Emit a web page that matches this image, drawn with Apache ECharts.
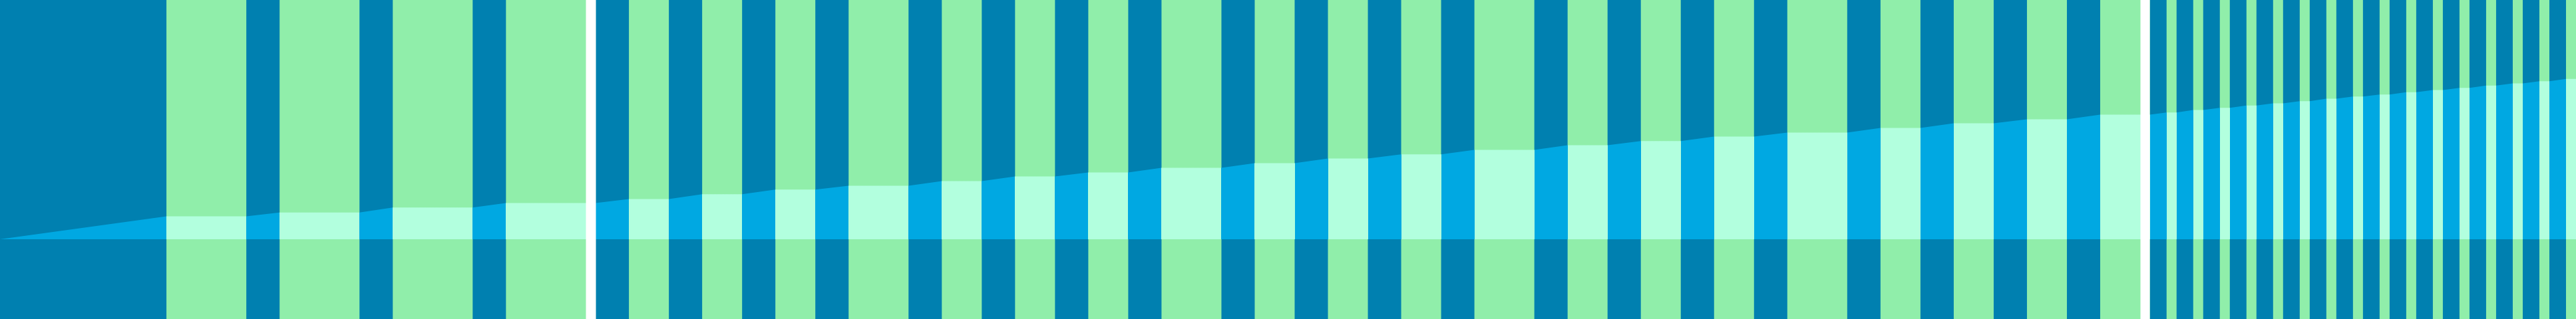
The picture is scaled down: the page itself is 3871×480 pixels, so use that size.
<!DOCTYPE html>
<html lang="en">
<head>
    <meta charset="UTF-8">
    <title>Cumulative total</title>
    <script src="https://cdn.jsdelivr.net/npm/echarts@6/dist/echarts.min.js"></script>
    <style>
        html, body { margin: 0; padding: 0; background: #fff; }
    </style>
</head>
<body>
<div id="main" style="width: 3871px;height:480px;"></div>
<script>

    // active periods (x units), the total only grows inside them
    const activeStart = [0, 74, 108, 142,
        200, 222, 244, 266, 294, 316, 338, 360, 388, 410, 432, 454, 482, 504, 526, 548, 576, 598, 620, 642,
        688, 696, 704, 712, 720, 728, 736, 744, 752, 760, 768, 776, 784, 792, 800, 808];
    const activeEnd = [50, 84, 118, 152,
        210, 232, 254, 276, 304, 326, 348, 370, 398, 420, 442, 464, 492, 514, 536, 558, 586, 608, 630, 652,
        693, 701, 709, 717, 725, 733, 741, 749, 757, 765, 773, 781, 789, 797, 805, 813];
    // running total at the end of each active period
    const totals = [28.7, 33.5, 39.8, 45.4,
        50.4, 56.5, 62.3, 67.1, 72.9, 78.7, 83.7, 89.6, 95.4, 101.2, 106.5, 112.1, 117.9, 123.2, 128.7, 133.7,
        139.6, 145.4, 150.4, 156.2,
        159.0, 162.1, 164.8, 167.7, 170.4, 173.2, 176.2, 179.0, 181.5, 184.3, 187.1, 189.8, 192.7, 195.4, 198.1, 201.0];
    // hidden stretches of the x axis
    const breakRanges = [[176, 200], [664, 688]];
    const xMax = 816;

    const darkColor = '#0080b0';
    const idleColor = '#90eeaa';
    const areaColor = '#00a8e2';
    const areaIdleColor = '#b2ffde';

    let lineData = [];
    let prev = 0;
    for (let i = 0; i < activeStart.length; i++) {
        lineData.push([activeStart[i], prev]);
        lineData.push([activeEnd[i], totals[i]]);
        prev = totals[i];
    }
    lineData.push([xMax, prev]);

    // idle bands = gaps between active periods
    let idle = [];
    for (let i = 0; i < activeEnd.length; i++) {
        idle.push([activeEnd[i], i + 1 < activeStart.length ? activeStart[i + 1] : xMax]);
    }

    let myChart = echarts.init(document.getElementById('main'));
    let option = {
        animation: false,
        backgroundColor: '#fff',
        grid: {
            left: 0, right: 0, top: 0, bottom: 0,
            show: true,
            backgroundColor: darkColor,
            borderWidth: 0
        },
        xAxis: {
            type: 'value',
            min: 0,
            max: xMax,
            breaks: breakRanges.map(b => ({start: b[0], end: b[1], gap: '0.38%'})),
            breakArea: {
                itemStyle: {color: '#fff', borderWidth: 0, opacity: 1},
                zigzagAmplitude: 0,
                expandOnClick: false
            },
            axisLine: {show: false},
            axisTick: {show: false},
            axisLabel: {show: false},
            splitLine: {show: false}
        },
        yAxis: {
            type: 'value',
            min: -100,
            max: 300,
            axisLine: {show: false},
            axisTick: {show: false},
            axisLabel: {show: false},
            splitLine: {show: false}
        },
        visualMap: {
            type: 'piecewise',
            show: false,
            dimension: 0,
            seriesIndex: 0,
            pieces: idle.map(b => ({gt: b[0], lt: b[1], color: areaIdleColor})),
            outOfRange: {color: areaColor}
        },
        series: [
            {
                type: 'line',
                data: lineData,
                showSymbol: false,
                lineStyle: {width: 0, opacity: 0},
                areaStyle: {opacity: 1},
                markArea: {
                    silent: true,
                    itemStyle: {color: idleColor, opacity: 1},
                    data: idle.map(b => [{xAxis: b[0]}, {xAxis: b[1]}])
                }
            }
        ]
    };
    myChart.setOption(option);

</script>
</body>
</html>
